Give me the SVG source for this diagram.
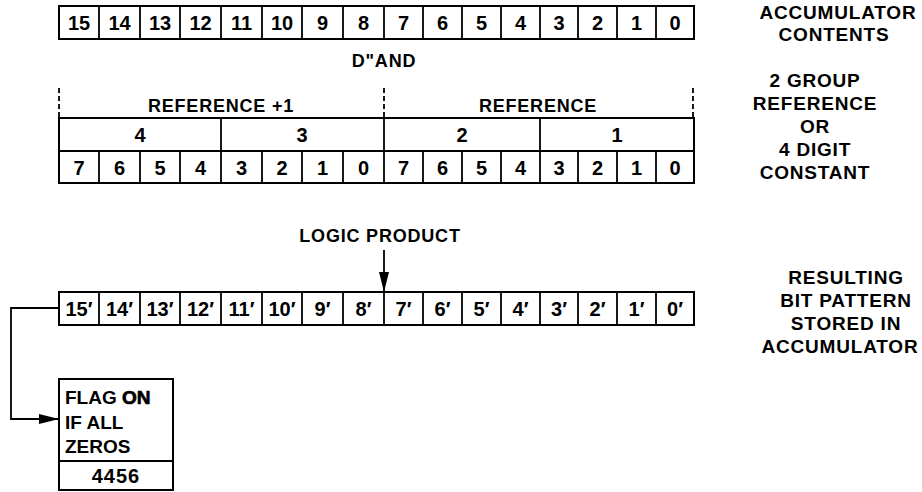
<svg xmlns="http://www.w3.org/2000/svg" width="922" height="492" viewBox="0 0 922 492">
<style>
.box{fill:none;stroke:#000;stroke-width:2}
.ln{stroke:#000;stroke-width:1.8;fill:none}
.dash{stroke:#000;stroke-width:1.8;stroke-dasharray:5 3;fill:none}
text{font-family:"Liberation Sans",Arial,sans-serif;font-weight:bold;fill:#000;text-anchor:middle}
.d{font-size:20px}
.lbl{font-size:18px;letter-spacing:0.8px}
.rl{font-size:19px;letter-spacing:0.8px}
.l{text-anchor:start}
</style>
<defs>
<marker id="ah" viewBox="0 0 20 10" refX="20" refY="5" markerWidth="20" markerHeight="10" markerUnits="userSpaceOnUse" orient="auto">
<path d="M0,0 L20,5 L0,10 Z" fill="#000"/>
</marker>
</defs>
<rect width="922" height="492" fill="#fff"/>

<g id="accumulator">
<rect class="box" x="59" y="6" width="635" height="33"/>
<path class="ln" d="M99,6V39M140,6V39M180,6V39M221,6V39M262,6V39M302,6V39M343,6V39M384,6V39M423,6V39M462,6V39M501,6V39M540,6V39M578,6V39M617,6V39M656,6V39"/>
<g class="d">
<text x="79" y="29.5">15</text><text x="119.5" y="29.5">14</text><text x="160" y="29.5">13</text><text x="200.5" y="29.5">12</text>
<text x="241.5" y="29.5">11</text><text x="282" y="29.5">10</text><text x="322.5" y="29.5">9</text><text x="363.5" y="29.5">8</text>
<text x="403.5" y="29.5">7</text><text x="442.5" y="29.5">6</text><text x="481.5" y="29.5">5</text><text x="520.5" y="29.5">4</text>
<text x="559" y="29.5">3</text><text x="597.5" y="29.5">2</text><text x="636.5" y="29.5">1</text><text x="675" y="29.5">0</text>
</g>
</g>

<g id="acc-label" class="rl">
<text x="838" y="19">ACCUMULATOR</text>
<text x="834" y="41">CONTENTS</text>
</g>

<g id="dand"><text class="lbl" x="384" y="67">D"AND</text></g>

<g id="reference">
<path class="dash" d="M59,88V117M384,88V117M693,88V117"/>
<text class="lbl" x="221" y="112">REFERENCE +1</text>
<text class="lbl" x="538" y="112">REFERENCE</text>
<rect class="box" x="59" y="118" width="635" height="65"/>
<path class="ln" d="M59,151H694M221,118V183M384,118V183M540,118V183"/>
<path class="ln" d="M99,151V183M140,151V183M180,151V183M262,151V183M302,151V183M343,151V183M423,151V183M462,151V183M501,151V183M578,151V183M617,151V183M656,151V183"/>
<g class="d">
<text x="140" y="142">4</text><text x="302" y="142">3</text><text x="462" y="142">2</text><text x="617" y="142">1</text>
<text x="79" y="174.5">7</text><text x="119.5" y="174.5">6</text><text x="160" y="174.5">5</text><text x="200.5" y="174.5">4</text>
<text x="241.5" y="174.5">3</text><text x="282" y="174.5">2</text><text x="322.5" y="174.5">1</text><text x="363.5" y="174.5">0</text>
<text x="403.5" y="174.5">7</text><text x="442.5" y="174.5">6</text><text x="481.5" y="174.5">5</text><text x="520.5" y="174.5">4</text>
<text x="559" y="174.5">3</text><text x="597.5" y="174.5">2</text><text x="636.5" y="174.5">1</text><text x="675" y="174.5">0</text>
</g>
</g>

<g id="ref-label" class="rl">
<text x="815" y="87">2 GROUP</text>
<text x="815" y="110">REFERENCE</text>
<text x="815" y="133">OR</text>
<text x="815" y="156">4 DIGIT</text>
<text x="815" y="179">CONSTANT</text>
</g>

<g id="logic-product"><text class="lbl" x="380" y="242">LOGIC PRODUCT</text></g>

<g id="result">
<rect class="box" x="59" y="292" width="635" height="33"/>
<path class="ln" d="M99,292V325M140,292V325M180,292V325M221,292V325M262,292V325M302,292V325M343,292V325M384,292V325M423,292V325M462,292V325M501,292V325M540,292V325M578,292V325M617,292V325M656,292V325"/>
<g class="d">
<text x="79" y="315.5">15′</text><text x="119.5" y="315.5">14′</text><text x="160" y="315.5">13′</text><text x="200.5" y="315.5">12′</text>
<text x="241.5" y="315.5">11′</text><text x="282" y="315.5">10′</text><text x="322.5" y="315.5">9′</text><text x="363.5" y="315.5">8′</text>
<text x="403.5" y="315.5">7′</text><text x="442.5" y="315.5">6′</text><text x="481.5" y="315.5">5′</text><text x="520.5" y="315.5">4′</text>
<text x="559" y="315.5">3′</text><text x="597.5" y="315.5">2′</text><text x="636.5" y="315.5">1′</text><text x="675" y="315.5">0′</text>
</g>
</g>

<g id="result-label" class="rl">
<text x="846" y="284">RESULTING</text>
<text x="846" y="307">BIT PATTERN</text>
<text x="846" y="330">STORED IN</text>
<text x="840" y="353">ACCUMULATOR</text>
</g>

<g id="flag">
<rect class="box" x="59" y="379" width="114" height="111"/>
<path class="ln" d="M59,461H173"/>
<text class="l" x="65" y="404" font-size="19">FLAG <tspan stroke="#000" stroke-width="0.7">ON</tspan></text>
<text class="l" x="65" y="429" font-size="19">IF ALL</text>
<text class="l" x="65" y="453" font-size="19">ZEROS</text>
<text x="116" y="483" font-size="20" letter-spacing="1">4456</text>
</g>

<g id="connectors">
<path class="ln" d="M384,250V292" marker-end="url(#ah)"/>
<path class="ln" d="M59,308H11V419H59" marker-end="url(#ah)"/>
</g>
</svg>
